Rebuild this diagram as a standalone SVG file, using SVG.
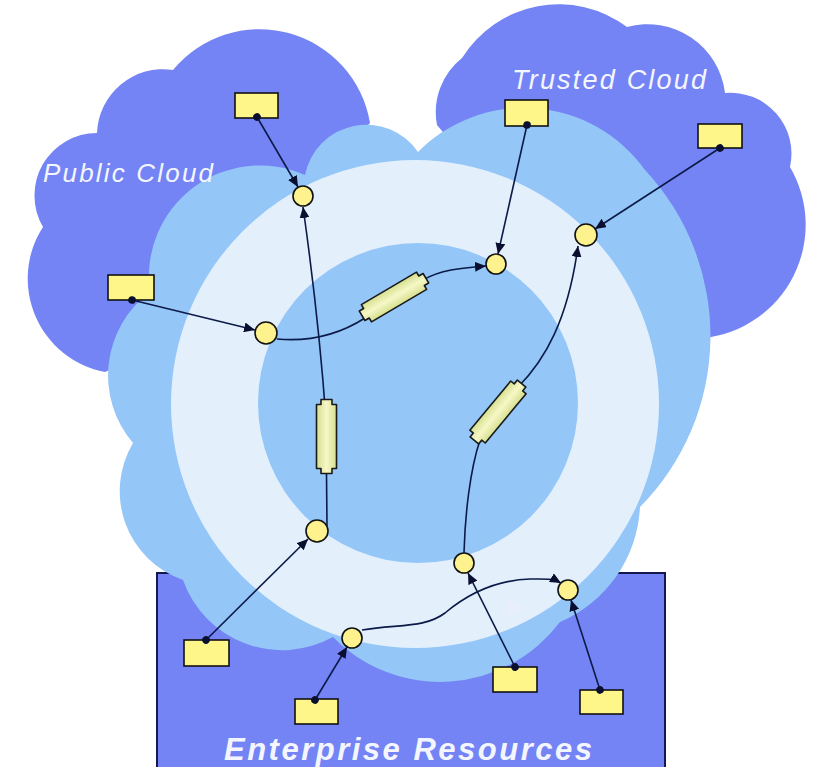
<svg xmlns="http://www.w3.org/2000/svg" xmlns:xlink="http://www.w3.org/1999/xlink" width="816" height="767" viewBox="0 0 816 767">
<style>
.dark{fill:#7484f4}
.lb{fill:#94c6f8}
.vl{fill:#e3f0fc}
.lbl{fill:#f4f6ff;font-family:"Liberation Sans",Arial,sans-serif;font-style:italic}
.box{fill:#fff68a;stroke:#111;stroke-width:1.6}
.pt{fill:#fdf28e;stroke:#111;stroke-width:1.6}
.cap{fill:url(#capGrad);stroke:#1a1a1a;stroke-width:1.6;stroke-linejoin:round}
.con{fill:none;stroke:#0c1a48;stroke-width:1.6}
</style>
<defs>
<linearGradient id="capGrad" x1="0" y1="0" x2="0" y2="1">
<stop offset="0" stop-color="#d6df8f"/>
<stop offset="0.5" stop-color="#f6f8c6"/>
<stop offset="1" stop-color="#d6df8f"/>
</linearGradient>
<marker id="arr" markerUnits="userSpaceOnUse" markerWidth="12" markerHeight="10" refX="11" refY="5" orient="auto">
<path d="M0,0 L11,5 L0,10 z" fill="#0a0f30"/>
</marker>
<marker id="dot" markerUnits="userSpaceOnUse" markerWidth="9" markerHeight="9" refX="4.5" refY="4.5" orient="auto">
<circle cx="4.5" cy="4.5" r="3.8" fill="#0a0f30"/>
</marker>
<polygon id="capShape" points="-37,-5.5 -32,-5.5 -32,-10 32,-10 32,-5.5 37,-5.5 37,5.5 32,5.5 32,10 -32,10 -32,5.5 -37,5.5"/>
</defs>

<rect width="816" height="767" fill="#ffffff"/>

<g id="public-cloud">
<path class="dark" d="M105,372 A95,95 0 0 1 43,227 A62.5,62.5 0 0 1 97,133 A66,66 0 0 1 173,70 A112,112 0 0 1 370,123 L300,200 L200,330 Z"/>
</g>
<g id="trusted-cloud">
<path class="dark" d="M437,125 A69,69 0 0 1 462,58 A114,114 0 0 1 627,27 A78,78 0 0 1 725,93 A61,61 0 0 1 790,167 A114,114 0 0 1 704,338 L640,300 L500,200 Z"/>
</g>
<g id="enterprise">
<rect x="157" y="573" width="508" height="200" fill="#7484f4" stroke="#141850" stroke-width="2"/>
</g>
<g id="hybrid-zone">
<path class="lb" d="M418,152 A149,149 0 0 1 645,170 A243,243 0 0 1 640,507 A132,132 0 0 1 560,622 A150,150 0 0 1 333,637 A105,105 0 0 1 183,580 A94,94 0 0 1 133,443 A104,104 0 0 1 150,292 A111,111 0 0 1 305,175 A62.5,62.5 0 0 1 418,152 Z"/>
<circle class="vl" cx="415" cy="404" r="244"/>
<circle class="lb" cx="418" cy="403" r="160"/>
<polygon points="507,597 523,607 507,618" fill="#e8eefc"/>
</g>

<text class="lbl" x="43" y="182" font-size="26" textLength="170" lengthAdjust="spacing">Public Cloud</text>
<text class="lbl" x="512" y="89" font-size="27" textLength="194" lengthAdjust="spacing">Trusted Cloud</text>
<text class="lbl" x="224" y="760" font-size="31" font-weight="bold" textLength="368" lengthAdjust="spacing">Enterprise Resources</text>

<g id="r1"><rect class="box" x="235" y="93" width="43" height="25"/></g>
<g id="r2"><rect class="box" x="108" y="275" width="46" height="25"/></g>
<g id="r3"><rect class="box" x="505" y="100" width="43" height="26"/></g>
<g id="r4"><rect class="box" x="698" y="124" width="44" height="24"/></g>
<g id="r5"><rect class="box" x="184" y="640" width="45" height="26"/></g>
<g id="r6"><rect class="box" x="295" y="699" width="43" height="25"/></g>
<g id="r7"><rect class="box" x="493" y="667" width="44" height="25"/></g>
<g id="r8"><rect class="box" x="580" y="690" width="43" height="24"/></g>

<g id="pA"><circle class="pt" cx="303" cy="196" r="10"/></g>
<g id="pB"><circle class="pt" cx="266" cy="333" r="11"/></g>
<g id="pC"><circle class="pt" cx="496" cy="264" r="10"/></g>
<g id="pD"><circle class="pt" cx="586" cy="235" r="11"/></g>
<g id="pE"><circle class="pt" cx="317" cy="531" r="11"/></g>
<g id="pF"><circle class="pt" cx="352" cy="638" r="10"/></g>
<g id="pG"><circle class="pt" cx="464" cy="563" r="10"/></g>
<g id="pH"><circle class="pt" cx="568" cy="590" r="10"/></g>

<g id="connectors">
<path class="con" d="M257,117 L298,187" marker-start="url(#dot)" marker-end="url(#arr)"/>
<path class="con" d="M132,300 L255,330" marker-start="url(#dot)" marker-end="url(#arr)"/>
<path class="con" d="M527,125 L498,254" marker-start="url(#dot)" marker-end="url(#arr)"/>
<path class="con" d="M720,148 L595,229" marker-start="url(#dot)" marker-end="url(#arr)"/>
<path class="con" d="M206,640 L308,539" marker-start="url(#dot)" marker-end="url(#arr)"/>
<path class="con" d="M315,700 L347,647" marker-start="url(#dot)" marker-end="url(#arr)"/>
<path class="con" d="M515,667 L468,573" marker-start="url(#dot)" marker-end="url(#arr)"/>
<path class="con" d="M600,690 L571,600" marker-start="url(#dot)" marker-end="url(#arr)"/>
<path class="con" d="M327,526 L326,420 Q319,320 303,207" marker-end="url(#arr)"/>
<path class="con" d="M277,339 C310,342 340,334 365,318 L423,280 C440,270 460,268 486,266" marker-end="url(#arr)"/>
<path class="con" d="M464,553 C465,515 470,470 480,440 L518,387 C545,360 568,320 578,246" marker-end="url(#arr)"/>
<path class="con" d="M362,630 C400,624 425,628 445,613 C470,592 500,580 530,579 C545,579 552,578 561,583" marker-end="url(#arr)"/>
</g>

<g id="cap1"><use xlink:href="#capShape" class="cap" transform="translate(326.5,436.5) rotate(90)"/></g>
<g id="cap2"><use xlink:href="#capShape" class="cap" transform="translate(394,297) rotate(-30.5)"/></g>
<g id="cap3"><use xlink:href="#capShape" class="cap" transform="translate(498,412) rotate(-50.3)"/></g>
</svg>
